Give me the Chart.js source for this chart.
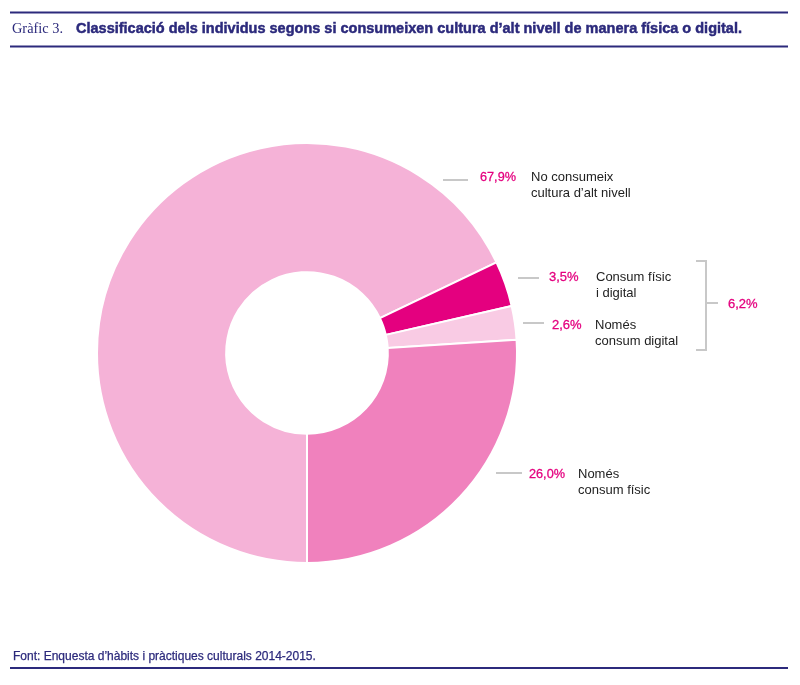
<!DOCTYPE html>
<html>
<head>
<meta charset="utf-8">
<script src="https://cdn.jsdelivr.net/npm/chart.js@4"></script>
<style>
html,body{margin:0;padding:0;background:#fff;}
#wrap{position:relative;width:800px;height:685px;}
</style>
</head>
<body>
<div id="wrap"><canvas id="c" width="800" height="685"></canvas></div>
<script>
const categories = ["No consumeix cultura d\u2019alt nivell", "Consum físic i digital", "Només consum digital", "Només consum físic"];
const values = [67.9, 3.5, 2.6, 26.0];
const valueLabels = ["67,9%", "3,5%", "2,6%", "26,0%"];
const labelLines = [["No consumeix", "cultura d\u2019alt nivell"], ["Consum físic", "i digital"], ["Només", "consum digital"], ["Només", "consum físic"]];
const colors = ["#f5b2d7", "#e4007f", "#f9cbe4", "#f081bd"];
const groupLabel = "6,2%";
const titlePrefix = "Gràfic 3.";
const titleText = "Classificació dels individus segons si consumeixen cultura d\u2019alt nivell de manera física o digital.";
const sourceText = "Font: Enquesta d\u2019hàbits i pràctiques culturals 2014-2015.";

const NAVY = "#2c2a7c";
const MAG = "#e4007f";
const GRAY = "#c8c8c8";

// label anchor positions (layout only)
const labelPos = [
  {lx1:443, lx2:468, ly:180, vx:480, tx:531, ty:177},
  {lx1:518, lx2:539, ly:278, vx:549, tx:596, ty:277},
  {lx1:523, lx2:544, ly:323, vx:552, tx:595, ty:325},
  {lx1:496, lx2:522, ly:473, vx:529, tx:578, ty:474}
];

const decor = {
  id: 'decor',
  afterDraw(chart) {
    const ctx = chart.ctx;
    ctx.save();
    // rules
    ctx.fillStyle = NAVY;
    ctx.fillRect(10, 11.5, 778, 2);
    ctx.fillRect(10, 45.5, 778, 2);
    ctx.fillRect(10, 667, 778, 2);
    // title
    ctx.textBaseline = 'middle';
    ctx.textAlign = 'left';
    ctx.fillStyle = NAVY;
    ctx.strokeStyle = NAVY;
    ctx.font = '15px "Liberation Serif", serif';
    ctx.fillText(titlePrefix, 12, 29, 51);
    ctx.font = 'bold 15px "Liberation Sans", Arial, sans-serif';
    ctx.fillText(titleText, 76, 29, 666);
    ctx.lineWidth = 0.5;
    ctx.strokeText(titleText, 76, 29, 666);
    // source
    ctx.font = '12px "Liberation Sans", Arial, sans-serif';
    ctx.fillText(sourceText, 13, 657, 306);
    ctx.lineWidth = 0.25;
    ctx.strokeText(sourceText, 13, 657, 306);
    // labels
    ctx.lineWidth = 2;
    for (let i = 0; i < values.length; i++) {
      const p = labelPos[i];
      ctx.strokeStyle = GRAY;
      ctx.lineWidth = 2;
      ctx.beginPath();
      ctx.moveTo(p.lx1, p.ly);
      ctx.lineTo(p.lx2, p.ly);
      ctx.stroke();
      ctx.fillStyle = MAG;
      ctx.strokeStyle = MAG;
      ctx.font = '13px "Liberation Sans", Arial, sans-serif';
      ctx.fillText(valueLabels[i], p.vx, p.ty, 36);
      ctx.lineWidth = 0.3;
      ctx.strokeText(valueLabels[i], p.vx, p.ty, 36);
      ctx.fillStyle = '#222';
      ctx.fillText(labelLines[i][0], p.tx, p.ty);
      ctx.fillText(labelLines[i][1], p.tx, p.ty + 16);
    }
    // bracket
    ctx.strokeStyle = GRAY;
    ctx.lineWidth = 2;
    ctx.beginPath();
    ctx.moveTo(696, 261); ctx.lineTo(706, 261); ctx.lineTo(706, 350); ctx.lineTo(696, 350);
    ctx.moveTo(706, 303); ctx.lineTo(718, 303);
    ctx.stroke();
    ctx.fillStyle = MAG;
    ctx.strokeStyle = MAG;
    ctx.lineWidth = 0.3;
    ctx.font = '13px "Liberation Sans", Arial, sans-serif';
    ctx.fillText(groupLabel, 728, 304);
    ctx.strokeText(groupLabel, 728, 304);
    ctx.restore();
  }
};

new Chart(document.getElementById('c'), {
  type: 'doughnut',
  data: {
    labels: categories,
    datasets: [{
      data: values,
      backgroundColor: colors,
      borderColor: '#ffffff',
      borderWidth: 2,
      hoverOffset: 0
    }]
  },
  options: {
    responsive: false,
    animation: false,
    rotation: 180,
    cutout: '38.5%',
    layout: { padding: { left: 96, right: 282, top: 142, bottom: 121 } },
    plugins: { legend: { display: false }, tooltip: { enabled: false } },
    events: []
  },
  plugins: [decor]
});
</script>
</body>
</html>
